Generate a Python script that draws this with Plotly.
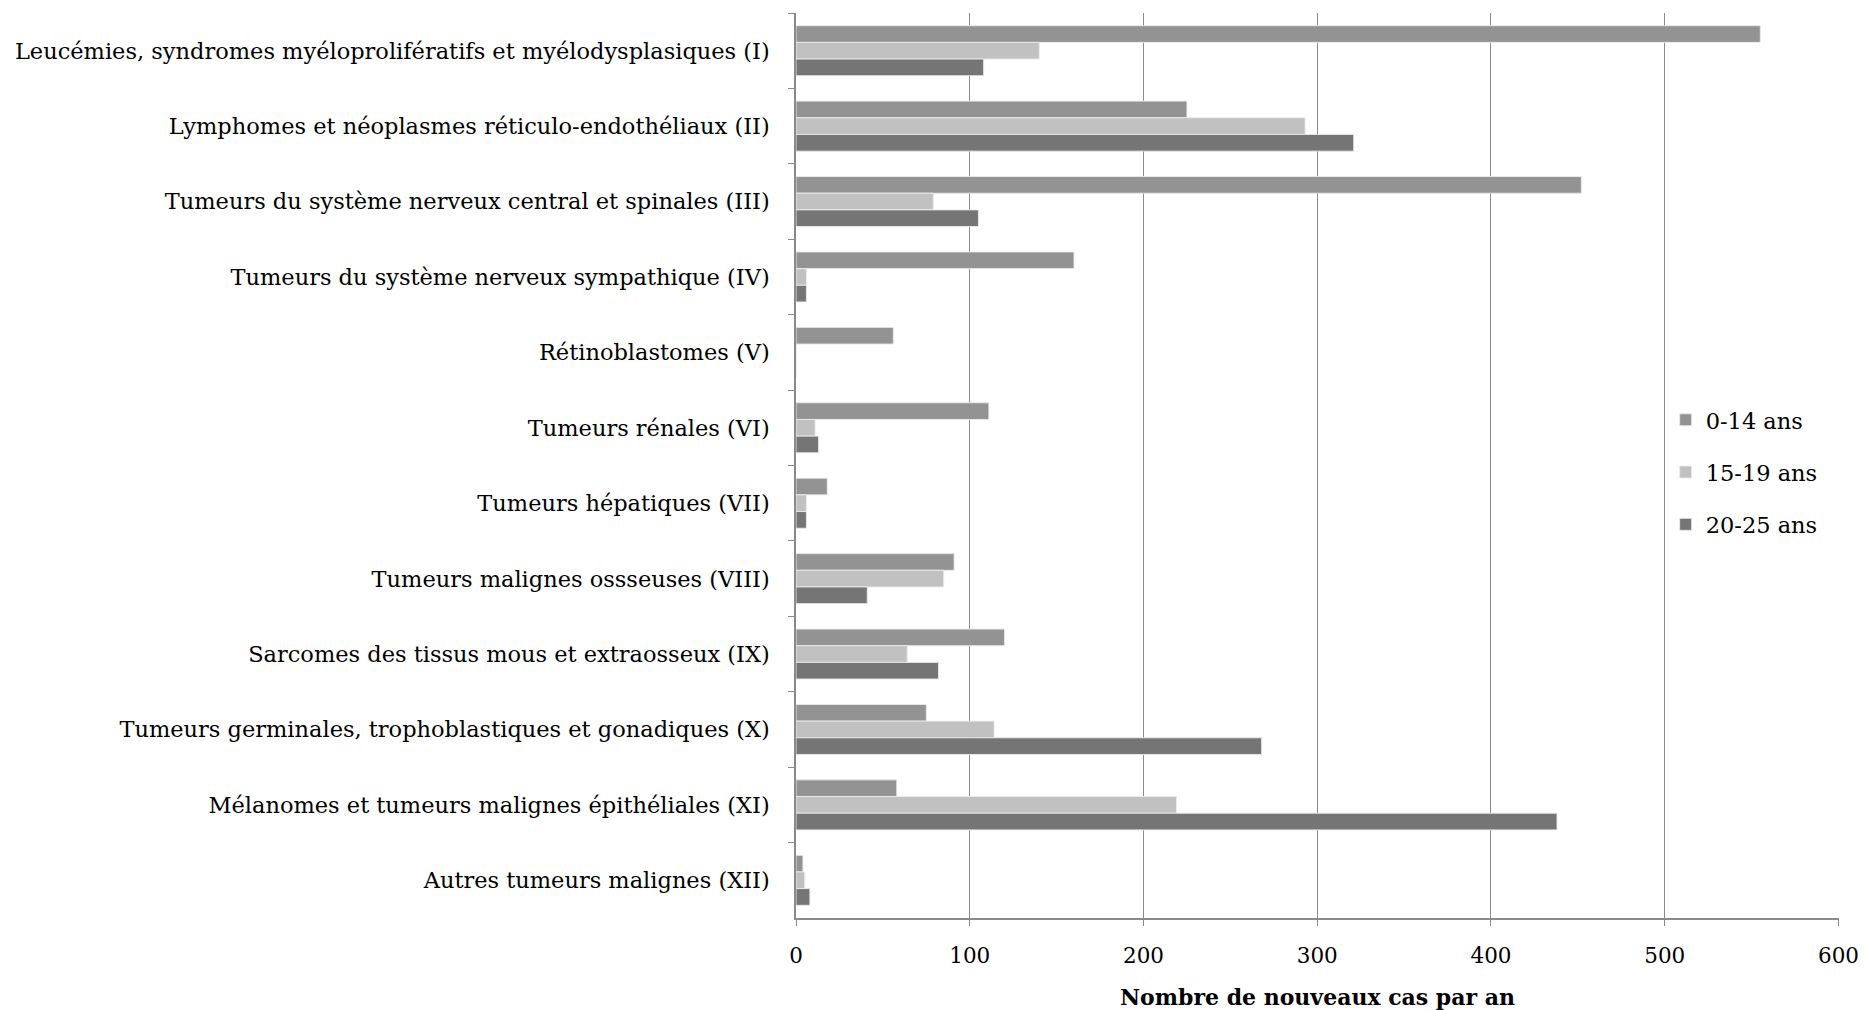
import plotly.graph_objects as go

categories = [
    "Leucémies, syndromes myéloprolifératifs et myélodysplasiques (I)",
    "Lymphomes et néoplasmes réticulo-endothéliaux (II)",
    "Tumeurs du système nerveux central et spinales (III)",
    "Tumeurs du système nerveux sympathique (IV)",
    "Rétinoblastomes (V)",
    "Tumeurs rénales (VI)",
    "Tumeurs hépatiques (VII)",
    "Tumeurs malignes ossseuses (VIII)",
    "Sarcomes des tissus mous et extraosseux (IX)",
    "Tumeurs germinales, trophoblastiques et gonadiques (X)",
    "Mélanomes et tumeurs malignes épithéliales (XI)",
    "Autres tumeurs malignes (XII)",
]
series_names = ["0-14 ans", "15-19 ans", "20-25 ans"]
v_0_14 = [555, 225, 452, 160, 56, 111, 18, 91, 120, 75, 58, 4]
v_15_19 = [140, 293, 79, 6, 0, 11, 6, 85, 64, 114, 219, 5]
v_20_25 = [108, 321, 105, 6, 0, 13, 6, 41, 82, 268, 438, 8]
x_ticks = [0, 100, 200, 300, 400, 500, 600]
x_title = "Nombre de nouveaux cas par an"

colors = ["#939393", "#c1c1c1", "#757575"]
FONT = "DejaVu Serif"
FS = 22.5

fig = go.Figure()
for name, vals, col in zip(series_names, [v_0_14, v_15_19, v_20_25], colors):
    fig.add_trace(go.Bar(
        y=categories, x=vals, name=name, orientation="h",
        marker=dict(color=col, line=dict(color="rgba(235,235,235,0.9)", width=1)),
        legendgroup=name,
    ))

W, H = 1865, 1010
left, right, top, bottom = 795.5, 1839.5, 12.7, 918
fig.update_layout(
    width=W, height=H,
    margin=dict(l=left, r=W - right, t=top, b=H - bottom, pad=0, autoexpand=False),
    paper_bgcolor="white", plot_bgcolor="white",
    barmode="group", bargap=0.337, bargroupgap=0,
    font=dict(family=FONT, size=FS, color="black"),
    showlegend=True,
    legend=dict(
        x=(1666 - left) / (right - left), xanchor="left",
        y=1 - (398.5 - top) / (bottom - top), yanchor="top",
        traceorder="grouped", tracegroupgap=20,
        font=dict(family=FONT, size=FS, color="black"),
        bgcolor="rgba(0,0,0,0)", itemwidth=30,
    ),
    xaxis=dict(
        range=[0, 600.3], tickvals=x_ticks, ticktext=[str(t) for t in x_ticks],
        showgrid=True, gridcolor="#8a8a8a", gridwidth=1,
        showline=True, linecolor="#8a8a8a", linewidth=1.5,
        ticks="outside", ticklen=6, tickcolor="#8a8a8a",
        tickfont=dict(family=FONT, size=21.5, color="black"),
        ticklabelstandoff=11, ticklabeloverflow="allow",
        zeroline=False,
        title=dict(text="<b>" + x_title + "</b>", font=dict(family=FONT, size=22, color="black"), standoff=25),
    ),
    yaxis=dict(
        autorange="reversed",
        showline=True, linecolor="#8a8a8a", linewidth=1.5,
        ticks="outside", ticklen=6, tickcolor="#8a8a8a", tickson="boundaries",
        showgrid=False,
        tickfont=dict(family=FONT, size=FS, color="black"),
        ticklabelstandoff=20,
    ),
)

fig.write_html("out.html", config={"displayModeBar": False},
               post_script="document.body.style.margin='0';")
